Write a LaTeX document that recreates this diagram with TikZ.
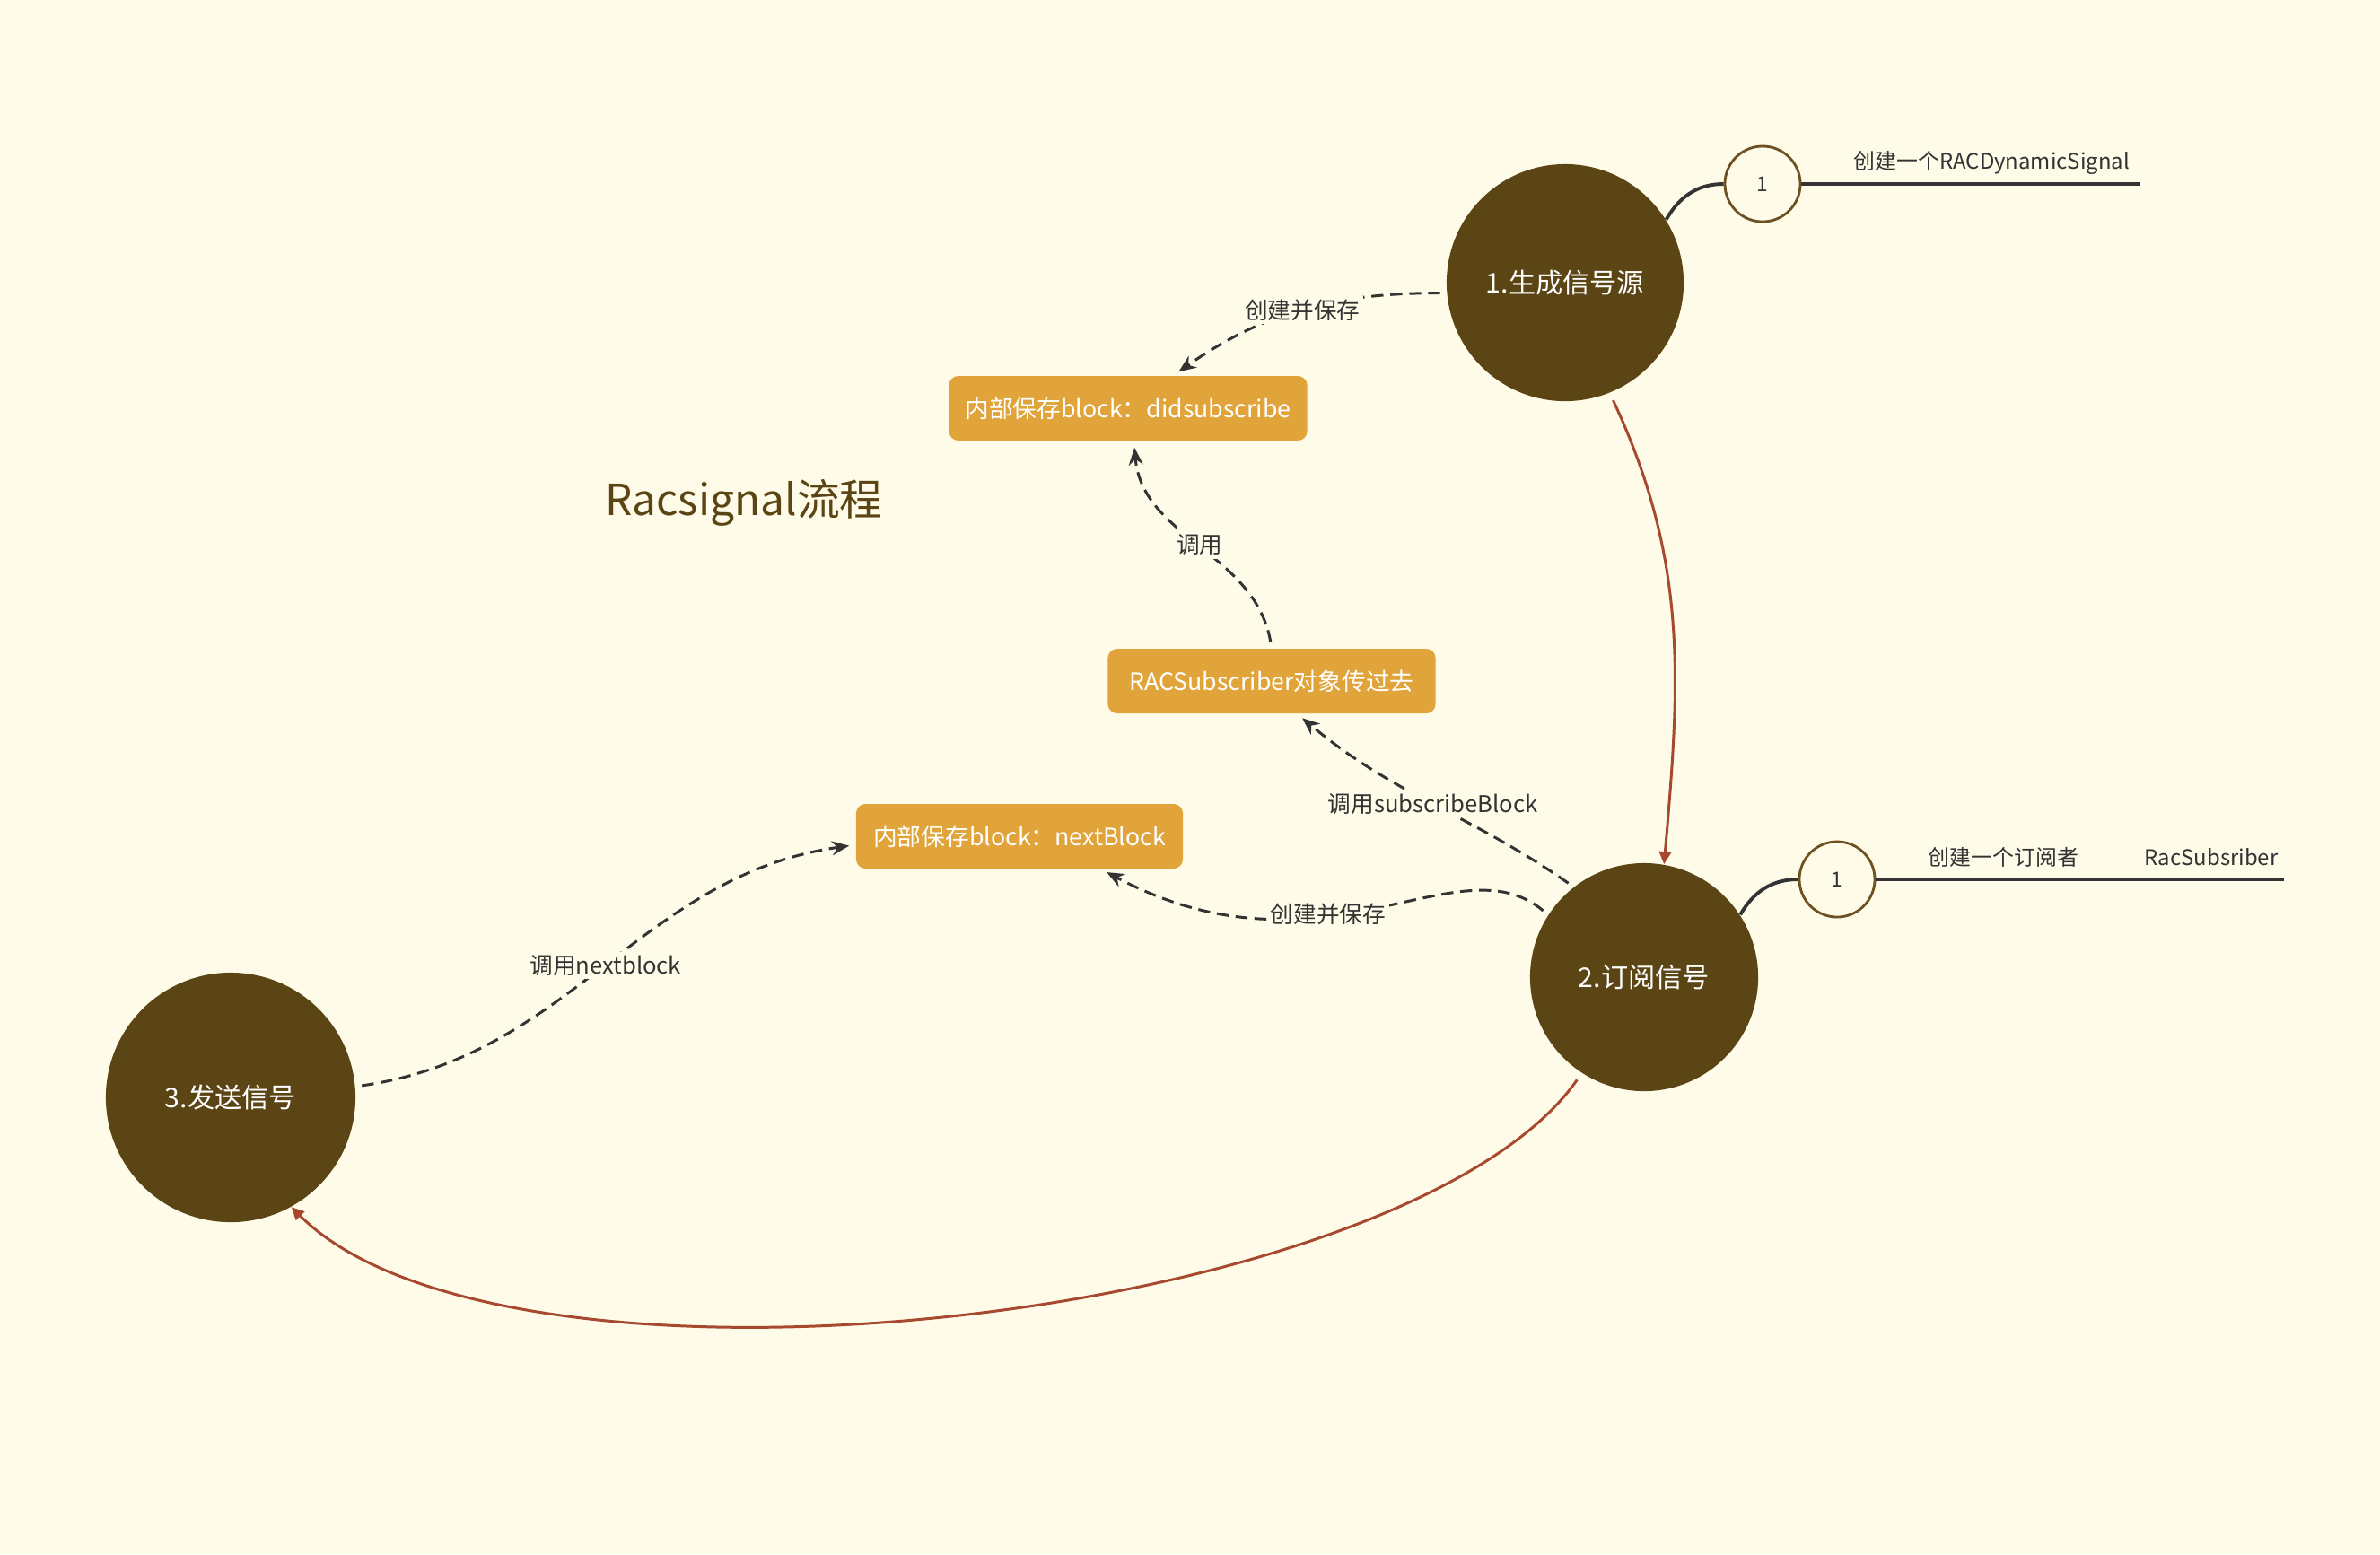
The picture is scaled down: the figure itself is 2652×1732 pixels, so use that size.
\documentclass[tikz,border=0pt]{standalone}
\usepackage{fontspec}
\setmainfont{Noto Sans CJK SC}
\usetikzlibrary{arrows.meta}

\definecolor{cream}{HTML}{FFFBE9}
\definecolor{darkbrown}{HTML}{5C4515}
\definecolor{amber}{HTML}{E0A43B}
\definecolor{rust}{HTML}{A6492F}
\definecolor{ink}{HTML}{333333}
\definecolor{ringbrown}{HTML}{6E5121}

\begin{document}
\begin{tikzpicture}[x=0.01cm, y=-0.01cm,
	stage/.style={circle, fill=darkbrown, text=white, inner sep=0pt, font=\fontsize{8.6}{10}\selectfont},
	block/.style={rectangle, rounded corners=3pt, fill=amber, text=white, minimum height=0.72cm, inner sep=0pt, font=\fontsize{7.6}{9}\selectfont},
	ring/.style={circle, draw=ringbrown, line width=0.8pt, fill=cream, minimum size=0.84cm, inner sep=0pt, text=ink, font=\fontsize{6.5}{8}\selectfont},
	note/.style={text=ink, inner sep=0pt, anchor=west, font=\fontsize{6.8}{8}\selectfont},
	call/.style={color=ink, line width=0.85pt, dash pattern=on 3.8pt off 2.2pt, -{Stealth[length=5.5pt,width=4.5pt]}, shorten <=2pt, shorten >=2pt},
	calltext/.style={fill=cream, text=ink, inner sep=1pt, font=\fontsize{7.3}{9}\selectfont},
	flow/.style={color=rust, line width=0.85pt, -{Triangle[length=4pt,width=3.8pt]}, shorten <=2.5pt},
	stem/.style={draw=ink, line width=1.1pt}
]

	\path[use as bounding box, fill=cream] (0,0) rectangle (2652,1732);

	\node[stage, minimum size=2.64cm] (n1) at (1744,315) {1.生成信号源};
	\node[stage, minimum size=2.54cm] (n2) at (1832,1089) {2.订阅信号};
	\node[stage, minimum size=2.78cm] (n3) at (257,1223) {3.发送信号};

	\node[block, minimum width=3.99cm] (b1) at (1257,455) {内部保存block：didsubscribe};
	\node[block, minimum width=3.65cm] (b2) at (1417,759) {RACSubscriber对象传过去};
	\node[block, minimum width=3.64cm] (b3) at (1136,932) {内部保存block：nextBlock};

	\node[text=darkbrown, font=\fontsize{13.6}{16}\selectfont] (title) at (829,560) {Racsignal流程};

	\node[ring] (r1) at (1964,205) {1};
	\node[ring] (r2) at (2047,980) {1};
	\coordinate (r1end) at (2385,205);
	\coordinate (r2end) at (2545,980);
	\node[note] (t1) at (2065,181) {创建一个RACDynamicSignal};
	\node[note] (t2) at (2148,955) {创建一个订阅者};
	\node[note] (t3) at (2389,955) {RacSubsriber};

	\draw[stem] (n1.32) to[out=60,in=180] (r1.west);
	\draw[stem] (r1.east) -- (r1end);
	\draw[stem] (n2.33) to[out=60,in=180] (r2.west);
	\draw[stem] (r2.east) -- (r2end);

	\path[call] (n1.185) edge[out=180,in=35] node[calltext] {创建并保存} (b1.36);
	\path[call] (b2.north) edge[out=100,in=-85] node[calltext] {调用} (b1.-80);
	\path[call] (n2.128) edge[out=145,in=-40] node[calltext] {调用subscribeBlock} (b2.-52);
	\path[call] (n2.147) edge[out=140,in=-28,out looseness=0.67,in looseness=1.43] node[calltext,pos=0.6] {创建并保存} (b3.-22);
	\path[call] (n3.5) edge[out=8,in=188] node[calltext] {调用nextblock} (b3.183);

	\path[flow] (n1.-68) edge[out=-65,in=85] (n2.80);
	\path[flow] (n2.237) edge[out=-125,in=-45,looseness=0.6] (n3.-61);
\end{tikzpicture}
\end{document}
